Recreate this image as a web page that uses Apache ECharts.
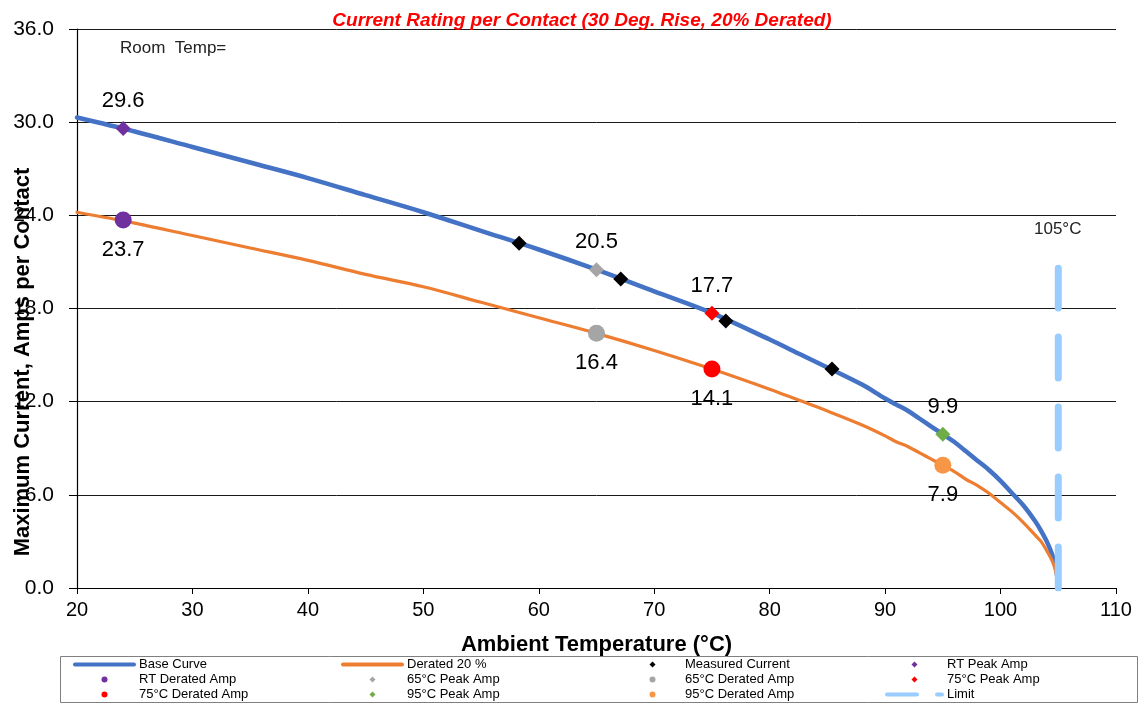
<!DOCTYPE html>
<html><head><meta charset="utf-8">
<script src="https://cdn.jsdelivr.net/npm/echarts@6/dist/echarts.min.js"></script>
<style>html,body{margin:0;padding:0;background:#fff}#c{width:1140px;height:703px}</style>
</head><body><div id="c"></div>
<script>
const FONT = '"Liberation Sans", Arial, sans-serif';
const titleText = 'Current Rating per Contact (30 Deg. Rise, 20% Derated)';
const xName = 'Ambient Temperature (°C)';
const yName = 'Maximum Current, Amps per Contact';
const xTicks = [20, 30, 40, 50, 60, 70, 80, 90, 100, 110];
const yTicks = [0, 6, 12, 18, 24, 30, 36];

// Curve sample temperatures and values
const curveTemps  = [20, 25, 30, 35, 40, 45, 50, 55, 60, 65, 70, 75, 80, 82.5, 85, 88, 90, 91, 92, 93, 94, 95, 96, 97, 98, 99, 100, 101, 102, 103, 103.5, 104, 104.5, 104.8, 105];
const baseCurve   = [30.3, 29.4, 28.4, 27.4, 26.4, 25.3, 24.2, 23.0, 21.8, 20.5, 19.1, 17.7, 16.0, 15.1, 14.2, 13.1, 12.2, 11.8, 11.4, 10.9, 10.4, 9.9, 9.4, 8.8, 8.2, 7.6, 6.9, 6.1, 5.3, 4.3, 3.7, 3.0, 2.1, 1.3, 0.0];
const deratedCurve= [24.2, 23.5, 22.7, 21.9, 21.1, 20.2, 19.4, 18.4, 17.4, 16.4, 15.3, 14.1, 12.8, 12.1, 11.4, 10.5, 9.8, 9.4, 9.1, 8.7, 8.3, 7.9, 7.5, 7.0, 6.6, 6.1, 5.5, 4.9, 4.2, 3.4, 3.0, 2.4, 1.7, 1.0, 0.0];

const measuredTemps = [58.3, 67.1, 76.2, 85.4];
const measuredAmps  = [22.2, 19.9, 17.2, 14.1];

const pointTemps   = [24, 65, 75, 95];
const peakAmps     = [29.6, 20.5, 17.7, 9.9];
const deratedAmps  = [23.7, 16.4, 14.1, 7.9];
const peakNames    = ['RT Peak Amp', '65°C Peak Amp', '75°C Peak Amp', '95°C Peak Amp'];
const deratedNames = ['RT Derated Amp', '65°C Derated Amp', '75°C Derated Amp', '95°C Derated Amp'];

const limitTemp = 105;
const limitRange = [0, 20.6];

const legendCols = [
  ['Base Curve', 'RT Derated Amp', '75°C Derated Amp'],
  ['Derated 20 %', '65°C Peak Amp', '95°C Peak Amp'],
  ['Measured Current', '65°C Derated Amp', '95°C Derated Amp'],
  ['RT Peak Amp', '75°C Peak Amp', 'Limit']
];

const peakColors = ['#7030A0', '#A5A5A5', '#FF0000', '#70AD47'];
const deratedColors = ['#7030A0', '#A5A5A5', '#FF0000', '#F79646'];

const chart = echarts.init(document.getElementById('c'), null, {renderer: 'canvas'});

const series = [
  {name: 'Base Curve', type: 'line', data: curveTemps.map((t, i) => [t, baseCurve[i]]),
   smooth: 0.35,
   symbol: 'none', showSymbol: false, lineStyle: {color: '#4472C4', width: 4.5, cap: 'round'}, itemStyle: {color: '#4472C4'}, z: 2},
  {name: 'Derated 20 %', type: 'line', data: curveTemps.map((t, i) => [t, deratedCurve[i]]),
   smooth: 0.35,
   symbol: 'none', showSymbol: false, lineStyle: {color: '#ED7D31', width: 3.2, cap: 'round'}, itemStyle: {color: '#ED7D31'}, z: 2},
  {name: 'Measured Current', type: 'scatter', data: measuredTemps.map((t, i) => [t, measuredAmps[i]]),
   symbol: 'diamond', symbolSize: 15, itemStyle: {color: '#000000', opacity: 1}, z: 5},
  {name: 'Limit', type: 'line', data: [[limitTemp, limitRange[0]], [limitTemp, limitRange[1]]],
   symbol: 'none', showSymbol: false, lineStyle: {color: '#99CCFF', width: 7, type: [41, 29], cap: 'round'}, itemStyle: {color: '#99CCFF'}, z: 3}
];
pointTemps.forEach((t, i) => {
  series.push({name: peakNames[i], type: 'scatter', data: [[t, peakAmps[i]]], symbol: 'diamond', symbolSize: 15,
    itemStyle: {color: peakColors[i], opacity: 1}, z: 6,
    label: {show: true, position: 'top', distance: 9, fontSize: 22, color: '#000', fontFamily: FONT,
      formatter: p => p.value[1].toFixed(1)}});
  series.push({name: deratedNames[i], type: 'scatter', data: [[t, deratedAmps[i]]], symbol: 'circle', symbolSize: 17,
    itemStyle: {color: deratedColors[i], opacity: 1}, z: 6,
    label: {show: true, position: 'bottom', distance: 10, fontSize: 22, color: '#000', fontFamily: FONT,
      formatter: p => p.value[1].toFixed(1)}});
});

const lineStyles = {
  'Base Curve': {color: '#4472C4', width: 4, type: 'solid', cap: 'round'},
  'Derated 20 %': {color: '#ED7D31', width: 4, type: 'solid', cap: 'round'},
  'Limit': {color: '#99CCFF', width: 4, type: [30, 20], cap: 'round'}
};
const DIAMOND = 'path://M5,0L10,5L5,10L0,5Z';
const diamondNames = ['Measured Current'].concat(peakNames);
const legendLefts = [73, 341, 649.5, 885];
const legendWidths = [59, 59, 55, 55];
const legends = legendCols.map((col, i) => ({
  orient: 'vertical', left: legendLefts[i], top: 657, padding: 0, itemGap: 0,
  itemWidth: legendWidths[i], itemHeight: 6, selectedMode: false, symbolKeepAspect: true,
  textStyle: {fontSize: 13, lineHeight: 15, color: '#000', fontFamily: FONT},
  data: col.map(n => lineStyles[n] ? {name: n, itemStyle: {opacity: 0}, lineStyle: lineStyles[n]}
    : (diamondNames.includes(n) ? {name: n, icon: DIAMOND} : {name: n, icon: 'circle'}))
}));

chart.setOption({
  animation: false,
  backgroundColor: '#fff',
  textStyle: {fontFamily: FONT},
  title: {text: titleText, left: 577, top: 6, textAlign: 'center',
    textStyle: {color: '#FF0000', fontSize: 19, fontWeight: 'bold', fontStyle: 'italic', fontFamily: FONT}},
  grid: {left: 77, right: 24, top: 29, bottom: 115, containLabel: false, outerBoundsMode: 'none'},
  legend: legends,
  xAxis: {type: 'value', min: xTicks[0], max: xTicks[xTicks.length - 1], interval: 10,
    name: xName, nameLocation: 'middle', nameGap: 46, nameMoveOverlap: false,
    nameTextStyle: {fontSize: 22, fontWeight: 'bold', color: '#000', fontFamily: FONT},
    axisLine: {show: true, lineStyle: {color: '#000', width: 1.2}},
    axisTick: {show: true, length: 6, inside: false, lineStyle: {color: '#000'}},
    axisLabel: {fontSize: 20, color: '#000', margin: 12, fontFamily: FONT},
    splitLine: {show: false}},
  yAxis: {type: 'value', min: yTicks[0], max: yTicks[yTicks.length - 1], interval: 6,
    nameMoveOverlap: false,
    axisLine: {show: true, lineStyle: {color: '#000', width: 1.2}},
    axisTick: {show: true, length: 8, inside: false, lineStyle: {color: '#000'}},
    axisLabel: {fontSize: 21, color: '#000', margin: 23, fontFamily: FONT, formatter: v => v.toFixed(1)},
    splitLine: {show: true, lineStyle: {color: '#1a1a1a', width: 1}}},
  graphic: [
    {type: 'rect', shape: {x: 60.5, y: 656.5, width: 1077, height: 46}, style: {fill: 'none', stroke: '#808080', lineWidth: 1}, z: -1},
    {type: 'text', left: 120, top: 40, style: {text: 'Room  Temp=', fontSize: 17, fill: '#222', fontFamily: FONT}},
    {type: 'text', left: 1034, top: 221, style: {text: '105°C', fontSize: 17, fill: '#222', fontFamily: FONT}},
    {type: 'text', x: 23, y: 362, rotation: Math.PI / 2, z: 10,
      style: {text: yName, fontSize: 22, fontWeight: 'bold', fill: '#000', fontFamily: FONT, align: 'center', verticalAlign: 'middle'}}
  ],
  series: series
});
</script></body></html>
